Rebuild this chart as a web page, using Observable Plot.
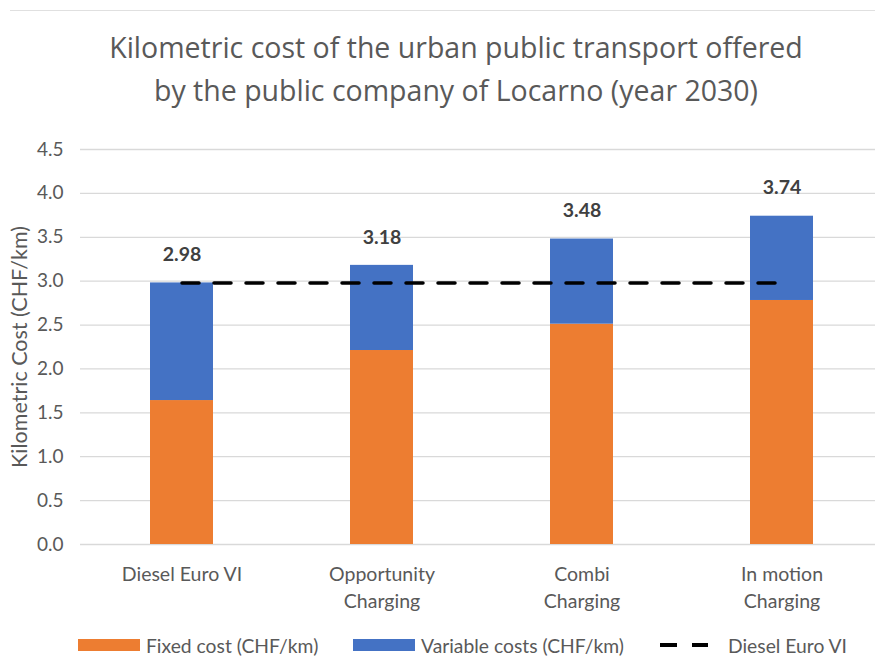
<!DOCTYPE html>
<html>
<head>
<meta charset="utf-8">
<script src="https://cdn.jsdelivr.net/npm/d3@7"></script>
<script src="https://cdn.jsdelivr.net/npm/@observablehq/plot@0.6"></script>
<style>
  body { margin: 0; background: #fff; }
  #wrap { position: relative; width: 875px; height: 656px; overflow: hidden; font-family: Lato, "Open Sans", sans-serif; }
  #topline { position: absolute; top: 10px; left: 10px; right: 0; height: 1px; background: #e0e0e0; }
  #title { position: absolute; top: 26px; left: 36px; width: 840px; text-align: center; font-family: "Open Sans", sans-serif; font-size: 28.5px; line-height: 43px; color: #595959; }
  #chart { position: absolute; top: 120px; left: 0; }
  #legend { position: absolute; top: 635px; left: 0; width: 875px; height: 20px; font-size: 19.3px; color: #595959; }
  .item { position: absolute; top: 0; display: flex; align-items: center; height: 20px; white-space: nowrap; }
  .sw { width: 62px; height: 12px; margin-right: 6px; }
</style>
</head>
<body>
<div id="wrap">
  <div id="topline"></div>
  <div id="title">Kilometric cost of the urban public transport offered<br>by the public company of Locarno (year 2030)</div>
  <div id="chart"></div>
  <div id="legend"></div>
</div>
<script>
const categories = ["Diesel Euro VI", "Opportunity\nCharging", "Combi\nCharging", "In motion\nCharging"];
const fixedCost = [1.64, 2.21, 2.51, 2.78];
const totalCost = [2.98, 3.18, 3.48, 3.74];
const dieselRef = 2.98;
const yTicks = [0, 0.5, 1, 1.5, 2, 2.5, 3, 3.5, 4, 4.5];
const legendLabels = ["Fixed cost (CHF/km)", "Variable costs (CHF/km)", "Diesel Euro VI"];

const ORANGE = "#ED7D31", BLUE = "#4472C4";

const rows = categories.map((c, i) => ({cat: c, fixed: fixedCost[i], total: totalCost[i], ref: dieselRef}));

const plot = Plot.plot({
  width: 875,
  height: 500,
  marginLeft: 80,
  marginRight: 0,
  marginTop: 29,
  marginBottom: 76,
  style: {fontFamily: "Lato, sans-serif", color: "#595959", background: "transparent", overflow: "visible"},
  x: {domain: categories, range: [80, 883], paddingInner: 0.686, paddingOuter: 0.343, label: null},
  y: {domain: [0, 4.5], label: null},
  marks: [
    Plot.ruleY(yTicks, {stroke: "#d9d9d9", strokeWidth: 1.3}),
    Plot.barY(rows, {x: "cat", y1: 0, y2: "fixed", fill: ORANGE}),
    Plot.barY(rows, {x: "cat", y1: "fixed", y2: "total", fill: BLUE}),
    Plot.lineY(rows, {x: "cat", y: "ref", stroke: "#000", strokeWidth: 3.5, strokeDasharray: "17,15"}),
    Plot.text(rows, {x: "cat", y: "total", text: d => d.total.toFixed(2), dy: -28, fontSize: 19.5, fontWeight: "bold", fill: "#404040"}),
    Plot.axisY({ticks: yTicks, tickSize: 0, tickPadding: 17, tickFormat: d => d.toFixed(1), fontSize: 19, fill: "#595959", label: null}),
    Plot.axisX({tickSize: 0, tickPadding: 18, fontSize: 19.5, fill: "#595959", lineAnchor: "top", lineHeight: 1.35, label: null}),
    Plot.text(["Kilometric Cost (CHF/km)"], {frameAnchor: "left", textAnchor: "middle", rotate: -90, dx: -60, fontSize: 21.5, fill: "#595959"})
  ]
});
document.getElementById("chart").appendChild(plot);

const legend = document.getElementById("legend");
const lx = [78, 353, 660];
legendLabels.forEach((lab, i) => {
  const it = document.createElement("div");
  it.className = "item";
  it.style.left = lx[i] + "px";
  if (i < 2) {
    const sw = document.createElement("div");
    sw.className = "sw";
    sw.style.background = i === 0 ? ORANGE : BLUE;
    it.appendChild(sw);
  } else {
    const ns = "http://www.w3.org/2000/svg";
    const svg = document.createElementNS(ns, "svg");
    svg.setAttribute("width", 68); svg.setAttribute("height", 20);
    const ln = document.createElementNS(ns, "line");
    ln.setAttribute("x1", 0); ln.setAttribute("x2", 48); ln.setAttribute("y1", 10); ln.setAttribute("y2", 10);
    ln.setAttribute("stroke", "#000"); ln.setAttribute("stroke-width", 4); ln.setAttribute("stroke-dasharray", "17,15");
    svg.appendChild(ln);
    it.appendChild(svg);
  }
  const t = document.createElement("span");
  t.textContent = lab;
  it.appendChild(t);
  legend.appendChild(it);
});
</script>
</body>
</html>
